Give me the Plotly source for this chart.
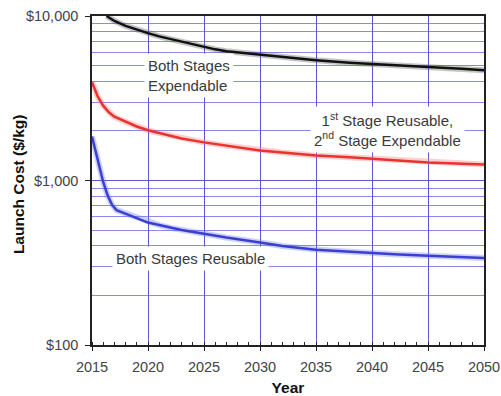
import math
import plotly.graph_objects as go

# Launch cost projections ($/kg) by year
years_expendable = [2016.3, 2017, 2018, 2019, 2020, 2021, 2022, 2023, 2024, 2025, 2026, 2027, 2028,
                    2030, 2032, 2035, 2038, 2040, 2042, 2045, 2048, 2050]
cost_expendable = [10000, 9330, 8700, 8250, 7870, 7520, 7240, 6950, 6700, 6470, 6270, 6100, 6000,
                   5800, 5640, 5390, 5200, 5100, 5000, 4890, 4780, 4680]

years_first_reusable = [2015, 2015.5, 2016, 2016.5, 2017, 2018, 2019, 2020, 2021, 2022, 2023, 2025, 2027,
                        2030, 2032, 2035, 2038, 2040, 2042, 2045, 2048, 2050]
cost_first_reusable = [3960, 3250, 2850, 2600, 2440, 2270, 2130, 2020, 1940, 1870, 1800, 1705, 1630,
                       1524, 1480, 1420, 1385, 1362, 1330, 1288, 1265, 1252]

years_both_reusable = [2015, 2015.3, 2015.6, 2016, 2016.4, 2016.8, 2017.2, 2017.6, 2018.4, 2019, 2020, 2021,
                       2022, 2023, 2025, 2027, 2030, 2032, 2035, 2038, 2040, 2042, 2045, 2048, 2050]
cost_both_reusable = [1850, 1520, 1250, 980, 810, 710, 660, 645, 615, 590, 555, 535,
                      515, 500, 475, 450, 420, 400, 380, 368, 362, 356, 349, 343, 338]

x_ticks = [2015, 2020, 2025, 2030, 2035, 2040, 2045, 2050]

series = [
    (years_expendable, cost_expendable, "#111111", "rgba(90,90,90,0.35)"),
    (years_first_reusable, cost_first_reusable, "#e8332f", "rgba(240,120,120,0.35)"),
    (years_both_reusable, cost_both_reusable, "#3a3fd0", "rgba(110,120,240,0.35)"),
]

fig = go.Figure()
for xs, ys, color, glow in series:
    # soft halo under each curve
    fig.add_trace(go.Scatter(x=xs, y=ys, mode="lines", line=dict(color=glow, width=6),
                             hoverinfo="skip", showlegend=False))
    fig.add_trace(go.Scatter(x=xs, y=ys, mode="lines", line=dict(color=color, width=2.5),
                             showlegend=False))

label_font = dict(family="Liberation Sans, Arial, sans-serif", size=15, color="#3a3a3a")

fig.add_annotation(x=2023.7, y=math.log10(4340), xref="x", yref="y",
                   text="Both Stages<br>Expendable", showarrow=False,
                   font=label_font, bgcolor="white", borderpad=3, align="left")
fig.add_annotation(x=2041.4, y=math.log10(2047), xref="x", yref="y",
                   text="1<sup>st</sup> Stage Reusable,<br>2<sup>nd</sup> Stage Expendable", showarrow=False,
                   font=label_font, bgcolor="white", borderpad=3, align="center")
fig.add_annotation(x=2023.8, y=math.log10(334), xref="x", yref="y",
                   text="Both Stages Reusable", showarrow=False,
                   font=label_font, bgcolor="white", borderpad=3)

axis_font = dict(family="Liberation Sans, Arial, sans-serif", size=14.5, color="#444444")
title_font = dict(family="Liberation Sans, Arial, sans-serif", size=15.5, color="#111111")

# y-axis title, set close to the tick labels
fig.add_annotation(x=-0.188, y=0.49, xref="paper", yref="paper", xanchor="center", yanchor="middle",
                   text="<b>Launch Cost ($/kg)</b>", textangle=-90, showarrow=False,
                   font=title_font)

fig.update_xaxes(
    range=[2015, 2050], tickvals=x_ticks, ticks="outside", ticklen=4, tickcolor="#222",
    tickfont=axis_font, ticklabelstandoff=4, ticklabeloverflow="allow",
    showgrid=True, gridcolor="#5a5ad0", gridwidth=1.3,
    showline=True, linecolor="#222", linewidth=1.5, mirror=True,
    minor=dict(dtick=1, ticks="inside", ticklen=3, tickcolor="#222", showgrid=False),
    title=dict(text="<b>Year</b>", font=title_font, standoff=8),
    zeroline=False,
)
fig.update_yaxes(
    type="log", range=[2, 4], dtick=1, tickprefix="$", tickformat=",.0f",
    ticks="outside", ticklen=5, tickcolor="#222", tickfont=axis_font, ticklabelstandoff=4,
    ticklabeloverflow="allow",
    showgrid=True, gridcolor="#5a5ad0", gridwidth=1.3,
    minor=dict(dtick="D1", showgrid=True, gridcolor="#8a8aee", gridwidth=1.3, ticks=""),
    showline=True, linecolor="#222", linewidth=1.5, mirror=True,
    zeroline=False,
)

fig.update_layout(
    width=501, height=396,
    margin=dict(l=92, r=17, t=16, b=51, autoexpand=False),
    plot_bgcolor="white", paper_bgcolor="white",
    showlegend=False,
)

fig.write_html("out.html")
